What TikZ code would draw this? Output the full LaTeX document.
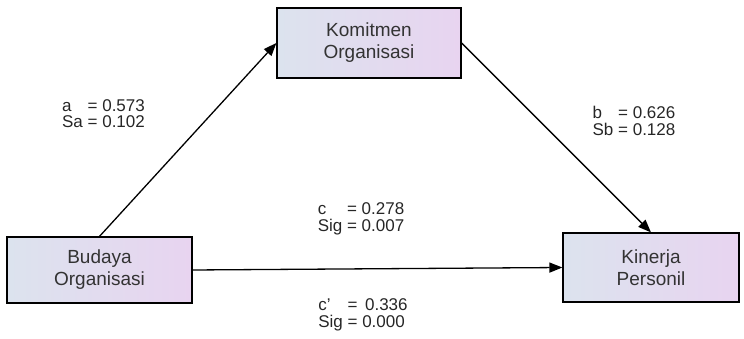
\documentclass[tikz,border=0pt]{standalone}
\usepackage{fontspec}
\setmainfont{Liberation Sans}
\usetikzlibrary{arrows.meta,positioning}
\tikzset{>={Triangle[length=13pt,width=10pt]}}
\definecolor{boxleft}{HTML}{DCE3EE}
\definecolor{boxright}{HTML}{E8D4F0}
\definecolor{boxtext}{HTML}{333333}

\begin{document}
\begin{tikzpicture}[x=1pt,y=1pt,
    var/.style={draw,
      line width=1.2pt,
      left color=boxleft,
      right color=boxright,
      text=boxtext,
      align=center,
      inner sep=0pt,
      font=\fontsize{19}{22}\selectfont},
    coef/.style={inner sep=0pt,
      text=black!85,
      font=\fontsize{17}{15}\selectfont},
    path/.style={->,line width=1.3pt}]
  \useasboundingbox (0,0) rectangle (744,339);

  \node [var,
    minimum width=184pt, minimum height=70pt
  ] (komitmen) at (369,296) {Komitmen\\Organisasi};
  \node [var,
    minimum width=185pt, minimum height=66pt
  ] (budaya) at (99.5,69) {Budaya\\Organisasi};
  \node [var,
    minimum width=176pt, minimum height=69pt
  ] (kinerja) at (651,71.5) {Kinerja\\Personil};

  \draw[path] (budaya.north) -- (komitmen.west);
  \draw[path] (komitmen.east) -- (kinerja.north);
  \draw[path] (budaya.east) -- (kinerja.west);

  % coefficients
  \def\arraystretch{0.9}
  \node [coef] (pa) at (103.5,223.5)
    {\begin{tabular}{@{}l@{ = }l@{}}a & 0.573\\Sa & 0.102\end{tabular}};
  \node [coef] (pb) at (634,216)
    {\begin{tabular}{@{}l@{ = }l@{}}b & 0.626\\Sb & 0.128\end{tabular}};
  \node [coef] (pc) at (361,120)
    {\begin{tabular}{@{}l@{ = }l@{}}c & 0.278\\Sig & 0.007\end{tabular}};
  \node [coef] (pcc) at (363,24)
    {\begin{tabular}{@{}l@{ = }l@{}}c' & \,0.336\\Sig & 0.000\end{tabular}};
\end{tikzpicture}
\end{document}
